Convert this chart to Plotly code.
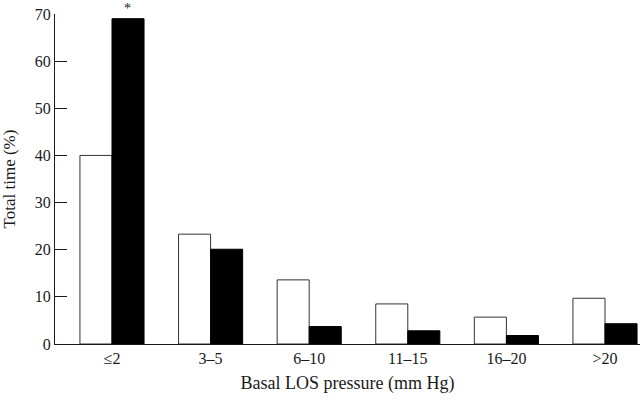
import plotly.graph_objects as go

# Basal LOS pressure categories (mm Hg)
categories = ["≤2", "3–5", "6–10", "11–15", "16–20", ">20"]
white_values = [40.0, 23.3, 13.6, 8.5, 5.7, 9.7]
black_values = [69.0, 20.1, 3.7, 2.8, 1.8, 4.3]
y_ticks = [0, 10, 20, 30, 40, 50, 60, 70]

font_family = "Liberation Serif, Times New Roman, serif"
ink = "#1a1a1a"

fig = go.Figure()

fig.add_trace(go.Bar(
    x=categories,
    y=white_values,
    marker=dict(color="white", line=dict(color="#333", width=1)),
    showlegend=False
))
fig.add_trace(go.Bar(
    x=categories,
    y=black_values,
    marker=dict(color="black", line=dict(color="black", width=1)),
    showlegend=False
))

# significance marker over the first black bar
fig.add_annotation(
    x=categories[0], y=black_values[0],
    text="*", showarrow=False,
    xshift=16, yshift=1, yanchor="bottom",
    font=dict(family=font_family, size=14, color=ink)
)

fig.update_layout(
    width=640, height=400,
    margin=dict(l=55, r=0, t=14, b=56),
    paper_bgcolor="white",
    plot_bgcolor="white",
    barmode="group",
    bargap=0.35,
    bargroupgap=0,
    font=dict(family=font_family, size=16, color=ink),
    xaxis=dict(
        range=[-0.578, 5.355],
        showline=True, linecolor=ink, linewidth=1,
        ticks="", showgrid=False, zeroline=False,
        tickfont=dict(size=16, color=ink),
        title=dict(text="Basal LOS pressure (mm Hg)", standoff=10,
                   font=dict(size=18, color=ink)),
        automargin=False
    ),
    yaxis=dict(
        range=[0, 70],
        tickvals=y_ticks,
        showline=True, linecolor=ink, linewidth=1,
        ticks="inside", ticklen=12, tickwidth=1, tickcolor=ink,
        showgrid=False, zeroline=False,
        tickfont=dict(size=16, color=ink),
        title=dict(text="Total time (%)", standoff=14,
                   font=dict(size=17, color=ink)),
        automargin=False
    )
)

# drop the default page margin so the figure sits at the window origin
fig.write_html("out.html", config={"displayModeBar": False},
               post_script="document.body.style.margin='0';")
